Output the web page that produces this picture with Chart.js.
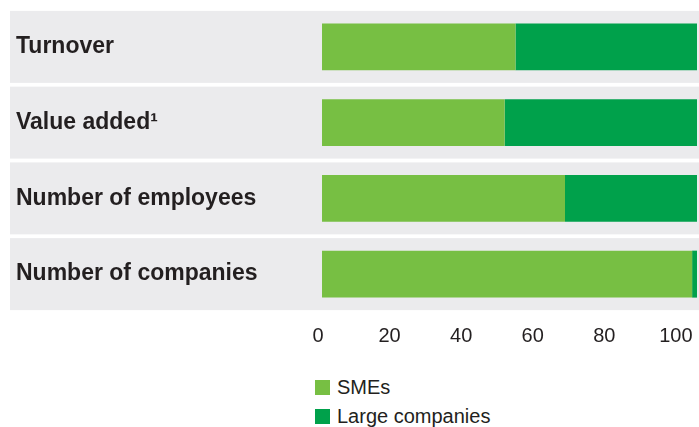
<!DOCTYPE html>
<html>
<head>
<meta charset="utf-8">
<script src="https://cdn.jsdelivr.net/npm/chart.js@4/dist/chart.umd.min.js"></script>
<style>
  html, body { margin: 0; padding: 0; background: #fff; }
  #wrap { position: relative; width: 699px; height: 427px; }
  #box { position: absolute; left: 0; top: 0; width: 699px; height: 350px; }
  #legend { position: absolute; left: 315px; top: 373px; font-family: "Liberation Sans", Arial, sans-serif; font-size: 20px; color: #231f20; }
  #legend div { display: flex; align-items: center; height: 29px; }
  #legend span.sw { display: inline-block; width: 15px; height: 15px; margin-right: 7px; }
</style>
</head>
<body>
<div id="wrap">
  <div id="box"><canvas id="shareChart"></canvas></div>
  <div id="legend"></div>
</div>
<script>
// доли МСП и крупных компаний, %
const categories = ['Turnover', 'Value added\u00b9', 'Number of employees', 'Number of companies'];
const smeShare = [51.6, 48.7, 64.8, 98.7];
const largeShare = [48.4, 51.3, 35.2, 1.3];
const tickValues = [0, 20, 40, 60, 80, 100];

const seriesNames = ['SMEs', 'Large companies'];
const seriesColors = ['#77bf43', '#00a14b'];
const textColor = '#231f20';

// серые полосы под каждой категорией, от левого края подписей до края холста
const bandPlugin = {
  id: 'bands',
  beforeDraw(chart) {
    const ctx = chart.ctx;
    const y = chart.scales.y;
    const step = y.getPixelForValue(1) - y.getPixelForValue(0);
    const h = step * 0.95;
    ctx.save();
    ctx.fillStyle = '#ebebed';
    for (let i = 0; i < categories.length; i++) {
      const c = y.getPixelForValue(i);
      ctx.fillRect(10, c - h / 2, chart.width - 10, h);
    }
    ctx.restore();
  }
};

const ctx = document.getElementById('shareChart').getContext('2d');
new Chart(ctx, {
  type: 'bar',
  data: {
    labels: categories,
    datasets: [
      { label: seriesNames[0], data: smeShare, backgroundColor: seriesColors[0] },
      { label: seriesNames[1], data: largeShare, backgroundColor: seriesColors[1] }
    ]
  },
  options: {
    indexAxis: 'y',
    responsive: true,
    maintainAspectRatio: false,
    animation: false,
    layout: { padding: { left: 16, top: 9, right: 2, bottom: 4 } },
    datasets: { bar: { barPercentage: 0.62, categoryPercentage: 1, borderWidth: 0 } },
    plugins: { legend: { display: false }, tooltip: { enabled: false } },
    scales: {
      x: {
        stacked: true,
        display: false,
        min: -1.07,
        max: 100
      },
      // ось с подписями 0–100
      x2: {
        position: 'bottom',
        min: 0,
        max: 105.9,
        grid: { display: false },
        border: { display: false },
        afterBuildTicks(scale) {
          scale.ticks = tickValues.map(v => ({ value: v }));
        },
        afterFit(scale) {
          scale.height = 34;
          scale.paddingLeft = 0;
          scale.paddingRight = 0;
        },
        ticks: {
          padding: 4,
          color: textColor,
          font: { family: '"Liberation Sans", Arial, sans-serif', size: 20 }
        }
      },
      y: {
        stacked: true,
        grid: { display: false },
        border: { display: false },
        afterFit(scale) {
          scale.width = 302;
          scale.paddingTop = 0;
          scale.paddingBottom = 0;
        },
        ticks: {
          crossAlign: 'far',
          padding: 0,
          color: textColor,
          font: { family: '"Liberation Sans", Arial, sans-serif', size: 23, weight: 'bold' }
        }
      }
    }
  },
  plugins: [bandPlugin]
});

// легенда списком под графиком
const legend = document.getElementById('legend');
seriesNames.forEach((name, i) => {
  const row = document.createElement('div');
  const sw = document.createElement('span');
  sw.className = 'sw';
  sw.style.background = seriesColors[i];
  row.appendChild(sw);
  row.appendChild(document.createTextNode(name));
  legend.appendChild(row);
});
</script>
</body>
</html>
